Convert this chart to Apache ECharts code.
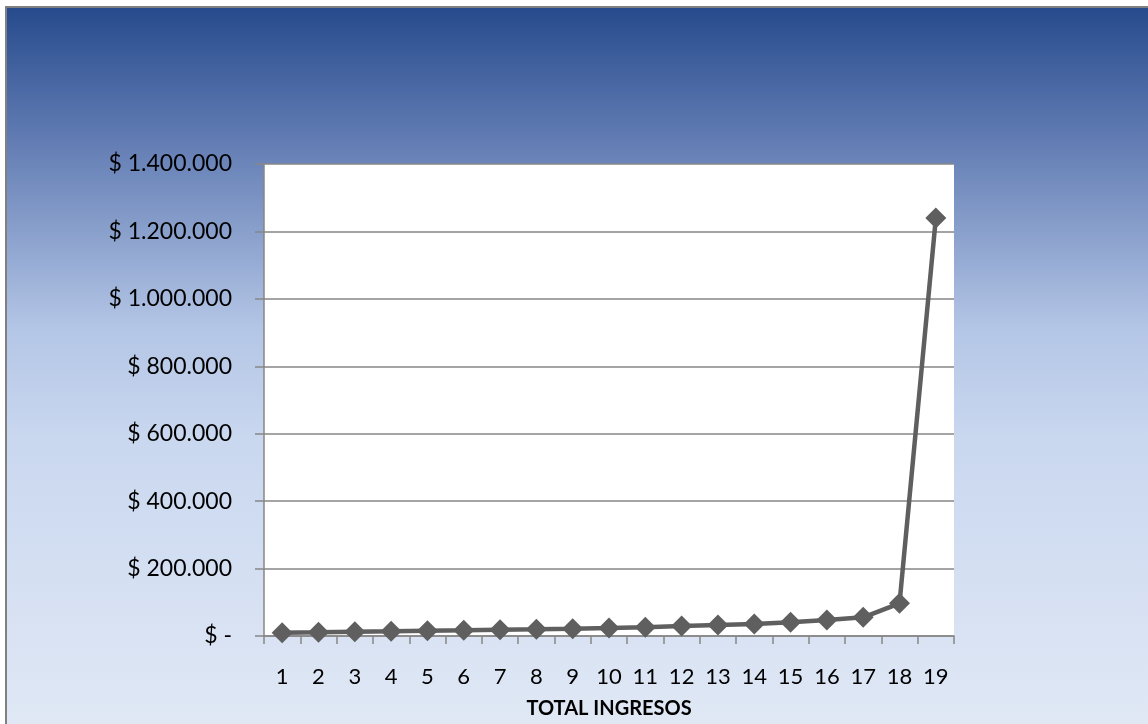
<!DOCTYPE html>
<html>
<head>
<meta charset="utf-8">
<style>
  html, body { margin: 0; padding: 0; background: #ffffff; }
  #chart { width: 1148px; height: 724px; }
</style>
<script src="https://cdn.jsdelivr.net/npm/echarts@6/dist/echarts.min.js"></script>
</head>
<body>
<div id="chart"></div>
<script>
// Periods 1..19 and the total income for each one
const categories = ['1','2','3','4','5','6','7','8','9','10','11','12','13','14','15','16','17','18','19'];
const ingresos = [9800, 11000, 12800, 14000, 15700, 17000, 18700, 20000, 21700, 23700,
                  25800, 29700, 32600, 35600, 40600, 47500, 55400, 97000, 1240000];
const axisTitle = 'TOTAL INGRESOS';
const yMax = 1400000;
const yStep = 200000;

function pesos(v) {
  if (v === 0) return '$ -';
  return '$ ' + String(Math.round(v)).replace(/\B(?=(\d{3})+(?!\d))/g, '.');
}

const chart = echarts.init(document.getElementById('chart'), null, { renderer: 'canvas' });
const FONT = 'Lato, "Open Sans", sans-serif';

chart.setOption({
  backgroundColor: '#ffffff',
  animation: false,
  graphic: [
    {
      type: 'rect', z: -10, silent: true,
      shape: { x: 5, y: 6, width: 1143, height: 718 },
      style: {
        fill: new echarts.graphic.LinearGradient(0, 0, 0, 1, [
          { offset: 0, color: '#264a8c' },
          { offset: 0.2, color: '#6680b6' },
          { offset: 0.45, color: '#b4c6e6' },
          { offset: 0.6, color: '#c9d7ef' },
          { offset: 1, color: '#e0e8f5' }
        ]),
        stroke: null
      }
    },
    { type: 'rect', z: -9, silent: true, shape: { x: 5, y: 6, width: 2, height: 718 }, style: { fill: '#808080' } },
    { type: 'rect', z: -9, silent: true, shape: { x: 5, y: 6, width: 1143, height: 2 }, style: { fill: '#808080' } }
  ],
  grid: {
    left: 264, right: 194, top: 164, bottom: 88,
    show: true, backgroundColor: '#ffffff', borderWidth: 0
  },
  xAxis: {
    type: 'category',
    data: categories,
    boundaryGap: true,
    name: axisTitle,
    nameLocation: 'middle',
    nameGap: 63,
    nameTextStyle: { fontFamily: FONT, fontSize: 20, fontWeight: 'bold', color: '#000000' },
    axisLine: { lineStyle: { color: '#868686', width: 1.5 } },
    axisTick: { show: true, length: 8, lineStyle: { color: '#868686', width: 1.5 } },
    axisLabel: { fontFamily: FONT, fontSize: 22, color: '#000000', margin: 30, interval: 0 }
  },
  yAxis: {
    type: 'value',
    min: 0, max: yMax, interval: yStep,
    axisLine: { show: true, lineStyle: { color: '#868686', width: 1.5 } },
    axisTick: { show: true, length: 9, lineStyle: { color: '#868686', width: 1.5 } },
    splitLine: { lineStyle: { color: '#868686', width: 1.5 } },
    axisLabel: { fontFamily: FONT, fontSize: 23, color: '#000000', margin: 32, formatter: pesos }
  },
  series: [{
    type: 'line',
    data: ingresos,
    symbol: 'diamond',
    symbolSize: 21,
    lineStyle: { color: '#5f5f5f', width: 4.5 },
    itemStyle: { color: '#5f5f5f' }
  }]
});
</script>
</body>
</html>
